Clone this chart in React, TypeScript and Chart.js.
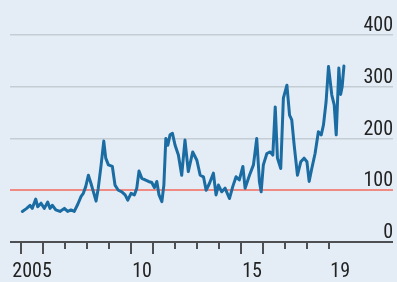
import React, { useEffect, useRef } from 'react';
import { Chart, registerables } from 'chart.js';

Chart.register(...registerables);

// Decimal years of each observation
const years = [
  2005.06, 2005.26, 2005.41, 2005.51, 2005.67, 2005.76, 2005.91,
  2006.06, 2006.21, 2006.32, 2006.42, 2006.58, 2006.77, 2006.97,
  2007.12, 2007.27, 2007.42, 2007.58, 2007.73, 2007.83, 2007.94,
  2008.06, 2008.18, 2008.29, 2008.41, 2008.51, 2008.64, 2008.76, 2008.85, 2008.97,
  2009.15, 2009.27, 2009.42, 2009.58, 2009.73, 2009.85,
  2010.0, 2010.15, 2010.26, 2010.36, 2010.49, 2010.64, 2010.79, 2010.94,
  2011.06, 2011.17, 2011.27, 2011.4, 2011.49, 2011.58, 2011.67, 2011.77, 2011.88,
  2012.0, 2012.15, 2012.3, 2012.45, 2012.6, 2012.8, 2012.99,
  2013.14, 2013.29, 2013.41, 2013.56, 2013.74, 2013.86, 2013.97,
  2014.12, 2014.27, 2014.47, 2014.62, 2014.77, 2014.92,
  2015.08, 2015.18, 2015.38, 2015.56, 2015.71, 2015.83, 2015.91,
  2016.01, 2016.17, 2016.32, 2016.44, 2016.55, 2016.65, 2016.8, 2016.92,
  2017.08, 2017.2, 2017.3, 2017.41, 2017.56, 2017.71, 2017.86, 2017.99,
  2018.09, 2018.21, 2018.36, 2018.51, 2018.64, 2018.74, 2018.86, 2018.97,
  2019.12, 2019.23, 2019.32, 2019.44, 2019.52, 2019.59, 2019.67,
];

const values = [
  59, 65, 71, 65, 83, 68, 75,
  65, 77, 65, 71, 62, 59, 65,
  59, 62, 59, 73, 88, 94, 107,
  129, 113, 97, 79, 104, 149, 195, 162, 149,
  146, 110, 100, 97, 91, 81,
  94, 91, 104, 137, 123, 120, 117, 115,
  105, 117, 91, 78, 110, 200, 187, 207, 210,
  187, 168, 129, 197, 136, 174, 158,
  129, 126, 100, 113, 133, 91, 110,
  97, 104, 84, 107, 126, 120,
  146, 104, 129, 149, 200, 117, 97,
  149, 171, 174, 168, 261, 162, 142, 278,
  303, 245, 236, 187, 129, 155, 162, 155,
  117, 142, 171, 213, 207, 226, 271, 339,
  284, 265, 207, 336, 285, 300, 340,
];

const yTickValues = [0, 100, 200, 300, 400];
const referenceLevel = 100;
const tickYears = [2005, 2006, 2007, 2008, 2009, 2010, 2011, 2012, 2013, 2014, 2015, 2016, 2017, 2018, 2019];
const longTickYears = [2005, 2006, 2010, 2011, 2015, 2016];
const xLabelYears = [2005, 2010, 2015, 2019];
const xLabelTexts = ['2005', '10', '15', '19'];

const FONT = '"Roboto Condensed", "Open Sans", sans-serif';

export default function App() {
  const ref = useRef<HTMLCanvasElement>(null);

  useEffect(() => {
    document.body.style.margin = '0';
    const canvas = ref.current;
    if (!canvas) return;

    const tickPlugin = {
      id: 'yearTicks',
      afterDraw(chart: any) {
        const xs = chart.scales.x;
        const ys = chart.scales.y;
        const c = chart.ctx;
        const base = ys.getPixelForValue(0);
        c.save();
        c.strokeStyle = '#4d4f52';
        c.lineWidth = 2;
        tickYears.forEach((yr) => {
          const px = Math.round(xs.getPixelForValue(yr));
          const len = longTickYears.includes(yr) ? 12 : 7;
          c.beginPath();
          c.moveTo(px, base);
          c.lineTo(px, base + len);
          c.stroke();
        });
        c.restore();
      },
    };

    const chart = new Chart(canvas, {
      type: 'line',
      data: {
        datasets: [
          {
            data: years.map((x, i) => ({ x, y: values[i] })),
            borderColor: '#1b6ca3',
            borderWidth: 3,
            pointRadius: 0,
            tension: 0,
            borderJoinStyle: 'round',
            borderCapStyle: 'round',
          },
        ],
      },
      options: {
        animation: false,
        responsive: false,
        layout: { padding: { left: 10, right: 4, top: 35, bottom: 0 } },
        plugins: { legend: { display: false }, tooltip: { enabled: false } },
        scales: {
          x: {
            type: 'linear',
            min: 2004.5,
            max: 2021.9,
            grid: { display: false, drawTicks: false },
            border: { display: false },
            afterFit: (axis: any) => {
              axis.height = 40;
              axis.paddingLeft = 0;
              axis.paddingRight = 0;
            },
            ticks: {
              stepSize: 1,
              includeBounds: false,
              autoSkip: false,
              maxRotation: 0,
              labelOffset: 11,
              padding: 18,
              color: '#222',
              font: { family: FONT, size: 20 },
              callback: (v: any) => {
                const i = xLabelYears.indexOf(Number(v));
                return i >= 0 ? xLabelTexts[i] : '';
              },
            },
          },
          y: {
            position: 'right',
            min: 0,
            max: 400,
            afterBuildTicks: (axis: any) => {
              axis.ticks = yTickValues.map((v) => ({ value: v }));
            },
            afterFit: (axis: any) => {
              axis.width = 0;
              axis.paddingTop = 0;
              axis.paddingBottom = 0;
            },
            grid: {
              drawTicks: false,
              color: (ctx: any) => {
                const v = ctx.tick ? ctx.tick.value : null;
                if (v === 0) return '#4d4f52';
                if (v === referenceLevel) return '#ef8b82';
                return '#c4ccd4';
              },
              lineWidth: (ctx: any) => {
                const v = ctx.tick ? ctx.tick.value : null;
                if (v === 0) return 2;
                if (v === referenceLevel) return 2;
                return 1.5;
              },
            },
            border: { display: false },
            ticks: {
              mirror: true,
              padding: 0,
              labelOffset: -9,
              color: '#222',
              font: { family: FONT, size: 20 },
            },
          },
        },
      },
      plugins: [tickPlugin],
    } as any);

    return () => chart.destroy();
  }, []);

  return (
    <div style={{ width: 397, height: 282, background: '#e4edf5', position: 'relative' }}>
      <canvas ref={ref} width={397} height={282} style={{ display: 'block' }} />
    </div>
  );
}
